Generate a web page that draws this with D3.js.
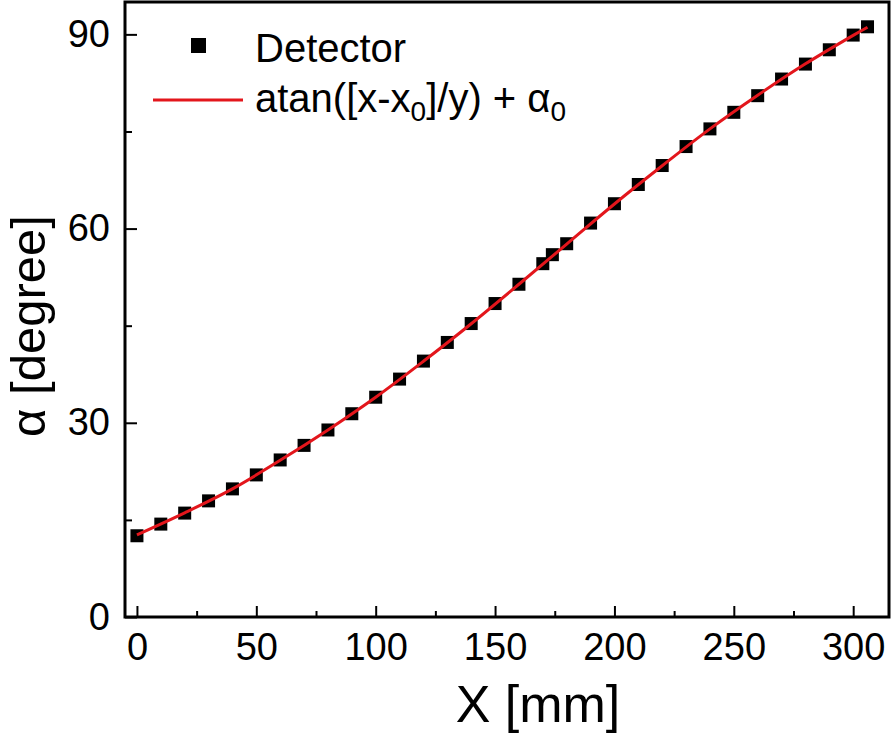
<!DOCTYPE html>
<html>
<head>
<meta charset="utf-8">
<script src="https://cdn.jsdelivr.net/npm/d3@7"></script>
<style>
  body { margin: 0; background: #fff; }
  svg { display: block; font-family: "Liberation Sans", Arial, sans-serif; }
  .tick text { font-size: 38px; fill: #000; }
  .tick line { stroke: #000; stroke-width: 2px; }
  .domain { display: none; }
</style>
</head>
<body>
<div id="graph"></div>
<script>
// detector positions [mm] and measured angles [degree]
const detX = [0, 10, 20, 30, 40, 50, 60, 70, 80, 90, 100, 110, 120, 130, 140, 150, 160, 170, 174,
              180, 190, 200, 210, 220, 230, 240, 250, 260, 270, 280, 290, 300, 306];
const detAlpha = [12.55, 14.35, 16.05, 17.94, 19.79, 21.95, 24.26, 26.51, 28.89, 31.4, 33.95, 36.75,
                  39.53, 42.41, 45.33, 48.42, 51.4, 54.58, 55.97, 57.66, 60.85, 63.84, 66.81, 69.74,
                  72.67, 75.4, 77.96, 80.53, 83.1, 85.41, 87.62, 89.89, 91.17];

// fitted curve
const fitX = [0, 20, 40, 60, 80, 100, 120, 140, 160, 180, 200, 220, 240, 260, 280, 300, 306];
const fitAlpha = [12.7, 16.1, 19.8, 24.2, 28.9, 33.95, 39.5, 45.3, 51.4, 57.6, 63.8, 69.7, 75.4, 80.6, 85.45, 89.85, 91.1];

const xMajor = [0, 50, 100, 150, 200, 250, 300];
const xMinor = [25, 75, 125, 175, 225, 275];
const yMajor = [0, 30, 60, 90];
const yMinor = [15, 45, 75];

const width = 894, height = 734;
const margin = { top: 2, right: 5, bottom: 117, left: 125 };
const w = width - margin.left - margin.right;
const h = height - margin.top - margin.bottom;

const xScale = d3.scaleLinear().domain([-5, 315]).range([0, w]);
const yScale = d3.scaleLinear().domain([0, 95]).range([h, 0]);

const svg = d3.select("#graph").append("svg")
    .attr("width", width)
    .attr("height", height);

const chart = svg.append("g")
    .attr("transform", `translate(${margin.left},${margin.top})`);

// ticks point inward
chart.append("g")
    .attr("transform", `translate(0,${h})`)
    .call(d3.axisBottom(xScale).tickValues(xMajor).tickSize(-11).tickPadding(16));

chart.append("g")
    .attr("transform", `translate(0,${h})`)
    .call(d3.axisBottom(xScale).tickValues(xMinor).tickSize(-6).tickFormat(""));

chart.append("g")
    .call(d3.axisLeft(yScale).tickValues(yMajor).tickSize(-12).tickPadding(15));

chart.append("g")
    .call(d3.axisLeft(yScale).tickValues(yMinor).tickSize(-7).tickFormat(""));

chart.append("rect")
    .attr("width", w)
    .attr("height", h)
    .attr("fill", "none")
    .attr("stroke", "#000")
    .attr("stroke-width", 3);

const markSize = 13;

chart.append("g")
    .selectAll("rect")
    .data(detX.map((x, i) => ({ x: x, a: detAlpha[i] })))
    .join("rect")
    .attr("x", d => xScale(d.x) - markSize / 2)
    .attr("y", d => yScale(d.a) - markSize / 2)
    .attr("width", markSize)
    .attr("height", markSize)
    .attr("fill", "#000");

const fitLine = d3.line()
    .x(d => xScale(d.x))
    .y(d => yScale(d.a))
    .curve(d3.curveCatmullRom);

chart.append("path")
    .datum(fitX.map((x, i) => ({ x: x, a: fitAlpha[i] })))
    .attr("d", fitLine)
    .attr("fill", "none")
    .attr("stroke", "#e3161c")
    .attr("stroke-width", 3);

// legend
const legend = svg.append("g");
legend.append("rect")
    .attr("x", 191).attr("y", 38)
    .attr("width", 15).attr("height", 15)
    .attr("fill", "#000");
legend.append("text")
    .attr("x", 255).attr("y", 62)
    .attr("font-size", 40)
    .text("Detector");
legend.append("line")
    .attr("x1", 153).attr("x2", 243)
    .attr("y1", 100).attr("y2", 100)
    .attr("stroke", "#e3161c")
    .attr("stroke-width", 3);

const fitLabel = legend.append("text")
    .attr("x", 255).attr("y", 112)
    .attr("font-size", 40);
fitLabel.append("tspan").text("atan([x-x");
fitLabel.append("tspan").attr("font-size", 28).attr("dy", 9).text("0");
fitLabel.append("tspan").attr("dy", -9).text("]/y) + \u03b1");
fitLabel.append("tspan").attr("font-size", 28).attr("dy", 9).text("0");

// axis titles
svg.append("text")
    .attr("x", 538).attr("y", 722)
    .attr("text-anchor", "middle")
    .attr("font-size", 52)
    .text("X [mm]");

svg.append("text")
    .attr("transform", "translate(45,326) rotate(-90)")
    .attr("text-anchor", "middle")
    .attr("font-size", 49)
    .text("\u03b1 [degree]");
</script>
</body>
</html>
